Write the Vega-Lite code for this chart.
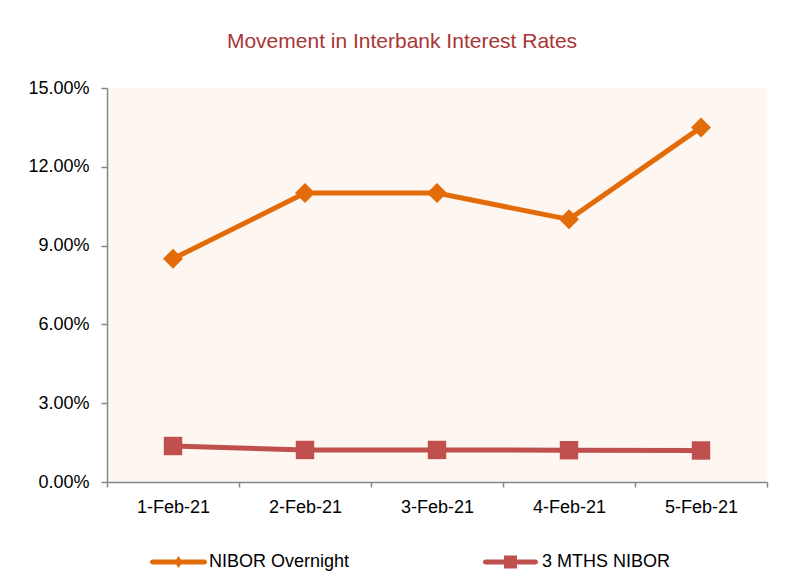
{
  "$schema": "https://vega.github.io/schema/vega-lite/v6.json",
  "autosize": {"type": "none"},
  "width": 660,
  "height": 394,
  "padding": {"left": 107, "top": 88, "right": 33, "bottom": 104},
  "background": "#FFFFFF",
  "title": {
    "text": "Movement in Interbank Interest Rates",
    "anchor": "middle",
    "frame": "group",
    "dx": -35,
    "offset": 27,
    "font": "Liberation Sans",
    "fontSize": 21,
    "fontWeight": "normal",
    "color": "#AA3535"
  },
  "data": {
    "values": [
      {"date": "1-Feb-21", "series": "NIBOR Overnight", "rate": 0.085},
      {"date": "2-Feb-21", "series": "NIBOR Overnight", "rate": 0.110},
      {"date": "3-Feb-21", "series": "NIBOR Overnight", "rate": 0.110},
      {"date": "4-Feb-21", "series": "NIBOR Overnight", "rate": 0.100},
      {"date": "5-Feb-21", "series": "NIBOR Overnight", "rate": 0.135},
      {"date": "1-Feb-21", "series": "3 MTHS NIBOR", "rate": 0.0137},
      {"date": "2-Feb-21", "series": "3 MTHS NIBOR", "rate": 0.0122},
      {"date": "3-Feb-21", "series": "3 MTHS NIBOR", "rate": 0.0122},
      {"date": "4-Feb-21", "series": "3 MTHS NIBOR", "rate": 0.0121},
      {"date": "5-Feb-21", "series": "3 MTHS NIBOR", "rate": 0.0120}
    ]
  },
  "encoding": {
    "x": {
      "field": "date",
      "type": "ordinal",
      "sort": null,
      "scale": {"type": "band", "paddingInner": 0, "paddingOuter": 0},
      "axis": {
        "title": null,
        "labelAngle": 0,
        "tickBand": "extent",
        "tickSize": 5,
        "labelPadding": 11,
        "grid": false
      }
    },
    "y": {
      "field": "rate",
      "type": "quantitative",
      "scale": {"domain": [0, 0.15], "nice": false},
      "axis": {
        "title": null,
        "format": ".2%",
        "values": [0, 0.03, 0.06, 0.09, 0.12, 0.15],
        "tickSize": 6,
        "labelPadding": 12,
        "grid": false
      }
    },
    "color": {
      "field": "series",
      "type": "nominal",
      "scale": {"domain": ["NIBOR Overnight", "3 MTHS NIBOR"], "range": ["#E36C0A", "#C0504D"]},
      "legend": {
        "orient": "none",
        "legendX": 35,
        "legendY": 465,
        "direction": "horizontal",
        "title": null,
        "labelFont": "Liberation Sans",
        "labelFontSize": 18,
        "labelColor": "#000000",
        "symbolSize": 4,
        "symbolStrokeWidth": 0,
        "symbolOpacity": 1,
        "labelOffset": 49,
        "columnPadding": 125,
        "labelLimit": 300,
        "encode": {
          "symbols": {
            "update": {
              "shape": {"signal": "datum.value === 'NIBOR Overnight' ? 'M1.5,-2.5L53.5,-2.5A2.5,2.5 0 0 1 53.5,2.5L1.5,2.5A2.5,2.5 0 0 1 1.5,-2.5Z M27.5,-6L31.5,0L27.5,6L23.5,0Z' : 'M1.5,-2.5L51.5,-2.5A2.5,2.5 0 0 1 51.5,2.5L1.5,2.5A2.5,2.5 0 0 1 1.5,-2.5Z M20,-6.5L33,-6.5L33,6.5L20,6.5Z'"},
              "size": {"value": 4},
              "strokeWidth": {"value": 0}
            }
          }
        }
      }
    }
  },
  "layer": [
    {
      "mark": {"type": "line", "strokeWidth": 5}
    },
    {
      "transform": [{"filter": "datum.series === 'NIBOR Overnight'"}],
      "mark": {"type": "point", "filled": true, "opacity": 1, "strokeWidth": 0, "shape": "diamond", "size": 400}
    },
    {
      "transform": [{"filter": "datum.series === '3 MTHS NIBOR'"}],
      "mark": {"type": "point", "filled": true, "opacity": 1, "strokeWidth": 0, "shape": "square", "size": 340}
    }
  ],
  "config": {
    "view": {"fill": "#FEF6F0", "stroke": null},
    "axis": {
      "labelFont": "Liberation Sans",
      "labelFontSize": 18,
      "labelColor": "#000000",
      "domainColor": "#868686",
      "domainWidth": 1.5,
      "tickColor": "#868686",
      "tickWidth": 1.5
    }
  }
}
